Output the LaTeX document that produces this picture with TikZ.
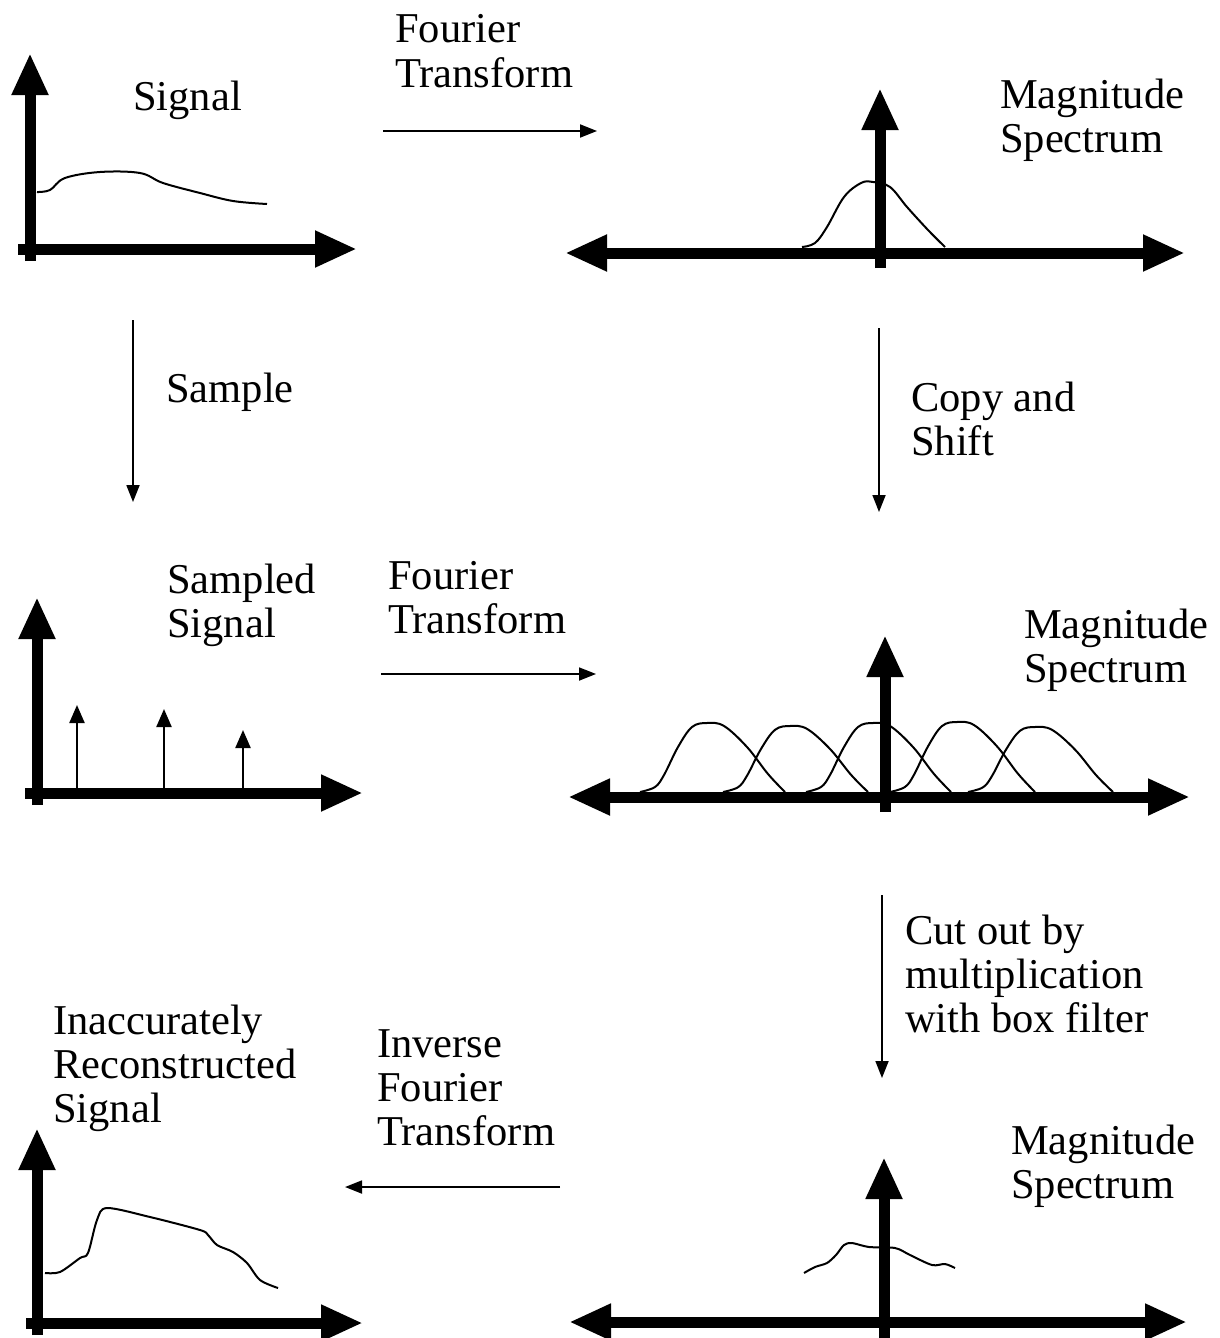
\documentclass[tikz,border=0pt]{standalone}
\usepackage{fontspec}
\setmainfont{Liberation Serif}
\usetikzlibrary{arrows.meta}
\tikzset{
  axis/.style={line width=11pt,-{Triangle[length=42pt,width=34pt]}},
  axisboth/.style={line width=11pt,{Triangle[length=42pt,width=34pt]}-{Triangle[length=42pt,width=34pt]}},
  flow/.style={line width=1.8pt,-{Triangle[length=17pt,width=13pt]}},
  stem/.style={line width=2.2pt,-{Triangle[length=18pt,width=15pt]}},
  curve/.style={line width=2pt},
  lbl/.style={anchor=base west,align=left,inner sep=0pt,font=\fontsize{42.5}{44}\selectfont}
}
\begin{document}
\begin{tikzpicture}[x=1pt,y=-1pt,line join=round]
  \useasboundingbox (0,0) rectangle (1219,1338);
  % Signal at top left and its spectrum at top right (labels sit on their last baseline).
  \draw[axis] (30,261) -- (30,53);
  \draw[axis] (18,249) -- (357,249);
  \draw[curve] plot[smooth,tension=0.6] coordinates {(37,192) (50,190) (65,178) (100,172) (140,173) (163,183) (200,193) (233,201) (267,204)};
  \node[lbl] (sig) at (133,110) {Signal};

  \draw[axisboth] (565,253) -- (1185,253);
  \draw[axis] (880,268) -- (880,88);
  \draw[curve] plot[smooth,tension=0.6] coordinates {(802,247) (815,243) (827,227) (844,197) (861,183) (873,182) (890,187) (907,207) (928,230) (945,247)};
  \node[lbl] (mag1) at (1000,152) {Magnitude\\Spectrum};

  \coordinate (ft1s) at (383,131);
  \coordinate (ft1e) at (597,131);
  \draw[flow] (ft1s) -- (ft1e);
  \node[lbl] (ft1) at (395,87) {Fourier\\Transform};

  \coordinate (samps) at (133,320);
  \coordinate (sampe) at (133,502);
  \draw[flow] (samps) -- (sampe);
  \node[lbl] (samp) at (166,402) {Sample};

  \coordinate (cps) at (879,328);
  \coordinate (cpe) at (879,512);
  \draw[flow] (cps) -- (cpe);
  \node[lbl] (cp) at (911,455) {Copy and\\Shift};

  % Sampled signal and the repeated spectrum.
  \draw[axis] (37,805) -- (37,597);
  \draw[axis] (25,793) -- (363,793);
  \draw[stem] (77,788) -- (77,705);
  \draw[stem] (164,788) -- (164,709);
  \draw[stem] (243,788) -- (243,730);
  \node[lbl] (ssig) at (167,637) {Sampled\\Signal};

  \draw[axisboth] (568,797) -- (1190,797);
  \draw[axis] (885,812) -- (885,635);
  \foreach \s/\h in {640/69,723/66,806/69,890/70,968/65}
    \draw[curve,shift={(\s,792)},yscale=\h/69] plot[smooth,tension=0.6] coordinates {(0,0) (15,-5) (24,-17) (38,-45) (52,-65) (67,-69) (84,-66) (107,-45) (128,-18) (145,0)};
  \node[lbl] (mag2) at (1024,682) {Magnitude\\Spectrum};

  \coordinate (ft2s) at (381,674);
  \coordinate (ft2e) at (596,674);
  \draw[flow] (ft2s) -- (ft2e);
  \node[lbl] (ft2) at (388,633) {Fourier\\Transform};

  \coordinate (cuts) at (882,895);
  \coordinate (cute) at (882,1078);
  \draw[flow] (cuts) -- (cute);
  \node[lbl] (cut) at (905,1032) {Cut out by\\multiplication\\with box filter};

  % Filtered spectrum and the reconstructed signal.
  \draw[axisboth] (569,1322) -- (1187,1322);
  \draw[axis] (884,1338) -- (884,1157);
  \draw[curve] plot[smooth,tension=0.5] coordinates {(804,1273) (815,1267) (827,1263) (836,1255) (844,1245) (852,1243) (869,1247) (895,1248) (910,1255) (932,1265) (945,1264) (955,1268)};
  \node[lbl] (mag3) at (1011,1198) {Magnitude\\Spectrum};

  \coordinate (ifts) at (560,1187);
  \coordinate (ifte) at (345,1187);
  \draw[flow] (ifts) -- (ifte);
  \node[lbl] (ift) at (377,1145) {Inverse\\Fourier\\Transform};

  \draw[axis] (37,1335) -- (37,1128);
  \draw[axis] (26,1323) -- (363,1323);
  \draw[curve] plot[smooth,tension=0.5] coordinates {(45,1273) (60,1272) (80,1258) (88,1253) (97,1220) (107,1208) (150,1217) (200,1230) (208,1235) (217,1245) (233,1252) (247,1263) (260,1280) (278,1288)};
  \node[lbl] (rec) at (53,1122) {Inaccurately\\Reconstructed\\Signal};
\end{tikzpicture}
\end{document}
